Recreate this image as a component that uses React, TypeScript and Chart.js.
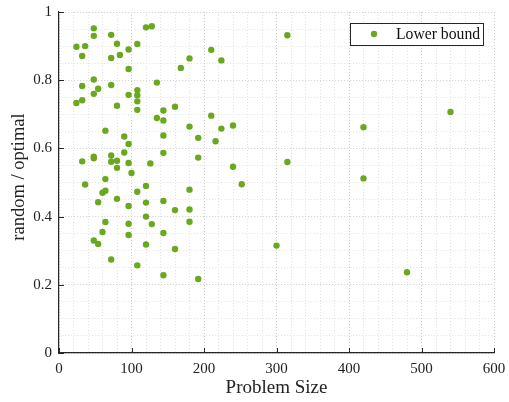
import React, { useEffect, useRef } from "react";
import { Chart, registerables } from "chart.js";

Chart.register(...registerables);

const seriesLabel = "Lower bound";
const xTitle = "Problem Size";
const yTitle = "random / optimal";

const problemSize: number[] = [
  48, 48, 72, 120, 128, 24, 36, 80, 108, 96, 84, 32, 72, 210, 180, 168, 96, 48, 135, 32,
  72, 54, 108, 48, 96, 108, 32, 24, 108, 80, 108, 144, 160, 210, 135, 144, 180, 216, 64, 90,
  144, 192, 96, 48, 48, 72, 90, 144, 32, 72, 80, 96, 126, 192, 80, 100, 64, 36, 120, 180,
  60, 64, 108, 80, 54, 96, 120, 144, 160, 180, 120, 64, 96, 128, 180, 60, 96, 144, 48, 54,
  120, 160, 72, 108, 144, 192, 315, 224, 224, 240, 240, 315, 252, 420, 420, 540, 300, 480,
];

const ratio: number[] = [
  0.952, 0.930, 0.933, 0.955, 0.958, 0.898, 0.900, 0.907, 0.906, 0.890, 0.874, 0.871, 0.865, 0.889, 0.864, 0.836, 0.833, 0.802, 0.793, 0.783,
  0.786, 0.775, 0.771, 0.760, 0.757, 0.756, 0.741, 0.733, 0.738, 0.725, 0.713, 0.711, 0.722, 0.696, 0.689, 0.682, 0.664, 0.621, 0.652, 0.635,
  0.638, 0.631, 0.613, 0.576, 0.571, 0.579, 0.588, 0.587, 0.562, 0.561, 0.564, 0.557, 0.556, 0.573, 0.543, 0.528, 0.510, 0.494, 0.490, 0.479,
  0.470, 0.476, 0.473, 0.452, 0.442, 0.431, 0.441, 0.446, 0.419, 0.421, 0.400, 0.384, 0.379, 0.378, 0.385, 0.355, 0.346, 0.352, 0.330, 0.320,
  0.318, 0.305, 0.274, 0.257, 0.228, 0.217, 0.932, 0.858, 0.658, 0.667, 0.546, 0.560, 0.495, 0.662, 0.512, 0.707, 0.315, 0.237,
];

const xMajorTicks: number[] = [0, 100, 200, 300, 400, 500, 600];
const yMajorTicks: number[] = [0, 0.2, 0.4, 0.6, 0.8, 1];

const FONT = "'Liberation Serif', 'Times New Roman', serif";
const GREEN = "#6aa820";
const AXIS = "#262626";

const isMajorX = (v: number) => xMajorTicks.some((m) => Math.abs(m - v) < 1e-6);
const isMajorY = (v: number) => yMajorTicks.some((m) => Math.abs(m - v) < 1e-6);

const innerTicks = {
  id: "innerTicks",
  afterDatasetsDraw(chart: any) {
    const { ctx, chartArea } = chart;
    const xs = chart.scales.x;
    const ys = chart.scales.y;
    ctx.save();
    ctx.strokeStyle = AXIS;
    ctx.lineWidth = 1;
    ctx.beginPath();
    xMajorTicks.forEach((v) => {
      const px = Math.round(xs.getPixelForValue(v)) + 0.5;
      ctx.moveTo(px, chartArea.bottom);
      ctx.lineTo(px, chartArea.bottom - 5);
    });
    yMajorTicks.forEach((v) => {
      const py = Math.round(ys.getPixelForValue(v)) + 0.5;
      ctx.moveTo(chartArea.left, py);
      ctx.lineTo(chartArea.left + 5, py);
    });
    ctx.stroke();
    ctx.restore();
  },
};

const yAxisTitle = {
  id: "yAxisTitle",
  afterDraw(chart: any) {
    const { ctx, chartArea } = chart;
    ctx.save();
    ctx.translate(19.5, (chartArea.top + chartArea.bottom) / 2 - 5.5);
    ctx.rotate(-Math.PI / 2);
    ctx.fillStyle = "#222222";
    ctx.font = `18.5px ${FONT}`;
    ctx.textAlign = "center";
    ctx.textBaseline = "middle";
    ctx.fillText(yTitle, 0, 0);
    ctx.restore();
  },
};

const boxLegend = {
  id: "boxLegend",
  afterDraw(chart: any) {
    const { ctx, chartArea } = chart;
    const ds = chart.data.datasets[0];
    const right = chartArea.right - 11;
    const top = chartArea.top + 10.5;
    const w = 133;
    const h = 22;
    const left = right - w;
    ctx.save();
    ctx.fillStyle = "#ffffff";
    ctx.fillRect(left, top, w, h);
    ctx.strokeStyle = AXIS;
    ctx.lineWidth = 1;
    ctx.strokeRect(Math.round(left) + 0.5, Math.round(top) + 0.5, w, h);
    ctx.fillStyle = ds.backgroundColor;
    ctx.beginPath();
    ctx.arc(left + 24, top + h / 2 + 0.5, 3.2, 0, Math.PI * 2);
    ctx.fill();
    ctx.fillStyle = "#111111";
    ctx.font = `15.7px ${FONT}`;
    ctx.textBaseline = "middle";
    ctx.textAlign = "left";
    ctx.fillText(ds.label, left + 46, top + h / 2 + 1);
    ctx.restore();
  },
};

export default function App() {
  const ref = useRef<HTMLCanvasElement | null>(null);

  useEffect(() => {
    if (!ref.current) return;
    const points = problemSize.map((x, i) => ({ x, y: ratio[i] }));
    const chart = new Chart(ref.current, {
      type: "scatter",
      data: {
        datasets: [
          {
            label: seriesLabel,
            data: points,
            backgroundColor: GREEN,
            borderColor: GREEN,
            borderWidth: 0,
            pointRadius: 3.2,
            pointHoverRadius: 3.2,
          },
        ],
      },
      options: {
        responsive: false,
        animation: false,
        events: [],
        layout: { padding: { top: 12, right: 15, left: 0, bottom: 0 } },
        plugins: {
          legend: { display: false },
          tooltip: { enabled: false },
        },
        scales: {
          x: {
            type: "linear",
            min: 0,
            max: 600,
            afterFit: (s: any) => {
              s.height = 49;
              s.paddingLeft = 0;
              s.paddingRight = 0;
            },
            ticks: {
              stepSize: 20,
              autoSkip: false,
              maxRotation: 0,
              padding: 7,
              color: "#222222",
              font: { family: FONT, size: 15 },
              callback: (v: any) => (isMajorX(Number(v)) ? String(Math.round(Number(v))) : ""),
            },
            grid: {
              drawTicks: false,
              lineWidth: 1,
              color: (c: any) => (c.tick && isMajorX(c.tick.value) ? "#cdcdcd" : "#e2e2e2"),
            },
            border: { display: true, color: AXIS, width: 1.2, dash: [1, 2] },
            title: {
              display: true,
              text: xTitle,
              color: "#222222",
              font: { family: FONT, size: 19 },
              padding: { top: 0, bottom: 3 },
            },
          },
          y: {
            type: "linear",
            min: 0,
            max: 1,
            afterFit: (s: any) => {
              s.width = 59;
              s.paddingTop = 0;
              s.paddingBottom = 0;
            },
            ticks: {
              stepSize: 0.05,
              autoSkip: false,
              padding: 7,
              color: "#222222",
              font: { family: FONT, size: 15 },
              callback: (v: any) => {
                const n = Number(v);
                if (!isMajorY(n)) return "";
                if (Math.abs(n) < 1e-9) return "0";
                if (Math.abs(n - 1) < 1e-9) return "1";
                return n.toFixed(1);
              },
            },
            grid: {
              drawTicks: false,
              lineWidth: 1,
              color: (c: any) => (c.tick && isMajorY(c.tick.value) ? "#cdcdcd" : "#e2e2e2"),
            },
            border: { display: true, color: AXIS, width: 1.2, dash: [1, 2] },
            title: { display: false, text: yTitle },
          },
        },
      },
      plugins: [innerTicks, yAxisTitle, boxLegend],
    });
    return () => chart.destroy();
  }, []);

  return (
    <div style={{ position: "absolute", left: 0, top: 0, width: 509, height: 402, background: "#ffffff" }}>
      <canvas ref={ref} width={509} height={402} style={{ display: "block", width: 509, height: 402 }} />
    </div>
  );
}
